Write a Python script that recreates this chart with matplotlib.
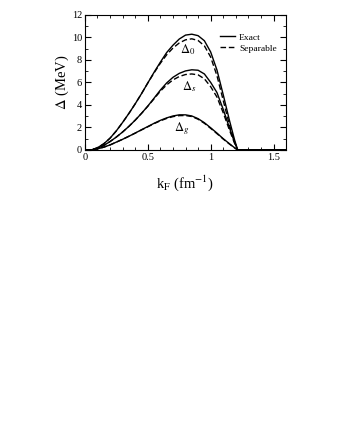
import numpy as np
import matplotlib
matplotlib.use("Agg")
import matplotlib.pyplot as plt
from matplotlib.ticker import MultipleLocator

plt.rcParams['font.family'] = ['Liberation Serif', 'DejaVu Serif']
plt.rcParams['mathtext.fontset'] = 'stix'

# k_F grid (fm^-1)
kF = [0.0, 0.05, 0.10, 0.15, 0.20, 0.25, 0.30, 0.35, 0.40, 0.45, 0.50, 0.55,
      0.60, 0.65, 0.70, 0.75, 0.80, 0.85, 0.90, 0.95, 1.00, 1.05, 1.10, 1.15,
      1.19, 1.215, 1.30, 1.40, 1.50, 1.60]

# gaps (MeV)
d0_exact = [0, 0.0, 0.20, 0.55, 1.05, 1.70, 2.45, 3.25, 4.10, 5.00, 5.95, 6.90,
            7.80, 8.65, 9.30, 9.85, 10.20, 10.28, 10.15, 9.70, 8.70, 7.10, 4.90, 2.60,
            0.90, 0, 0, 0, 0, 0]
d0_sep = [0, 0.0, 0.20, 0.55, 1.05, 1.70, 2.45, 3.25, 4.10, 5.00, 5.95, 6.85,
          7.70, 8.45, 9.05, 9.50, 9.78, 9.87, 9.72, 9.25, 8.25, 6.60, 4.40, 2.20,
          0.70, 0, 0, 0, 0, 0]
ds_exact = [0, 0.0, 0.15, 0.40, 0.75, 1.15, 1.60, 2.10, 2.65, 3.25, 3.90, 4.60,
            5.32, 5.95, 6.45, 6.80, 7.02, 7.12, 7.08, 6.75, 6.00, 5.10, 3.60, 1.95,
            0.70, 0, 0, 0, 0, 0]
ds_sep = [0, 0.0, 0.15, 0.40, 0.75, 1.15, 1.60, 2.10, 2.65, 3.25, 3.88, 4.55,
          5.22, 5.78, 6.22, 6.52, 6.70, 6.75, 6.67, 6.32, 5.62, 4.70, 3.30, 1.75,
          0.60, 0, 0, 0, 0, 0]
dg_exact = [0, 0.0, 0.10, 0.25, 0.45, 0.70, 0.95, 1.22, 1.50, 1.80, 2.08, 2.37,
            2.63, 2.85, 3.02, 3.12, 3.12, 3.02, 2.78, 2.42, 1.97, 1.50, 1.00, 0.55,
            0.20, 0, 0, 0, 0, 0]
dg_sep = [0, 0.0, 0.10, 0.25, 0.45, 0.70, 0.95, 1.22, 1.50, 1.78, 2.06, 2.34,
          2.59, 2.80, 2.96, 3.05, 3.06, 2.97, 2.73, 2.37, 1.92, 1.45, 0.97, 0.52,
          0.19, 0, 0, 0, 0, 0]

fig = plt.figure(figsize=(3.37, 4.36), dpi=100)
ax = fig.add_axes([0.252, 0.656, 0.597, 0.31])

lw = 1.0
ax.plot(kF, d0_exact, 'k-', lw=lw, label='Exact')
ax.plot(kF, d0_sep, 'k--', lw=lw, dashes=(4, 2), label='Separable')
ax.plot(kF, ds_exact, 'k-', lw=lw)
ax.plot(kF, ds_sep, 'k--', lw=lw, dashes=(4, 2))
ax.plot(kF, dg_exact, 'k-', lw=lw)
ax.plot(kF, dg_sep, 'k--', lw=lw, dashes=(4, 2))

ax.text(0.815, 8.9, r'$\Delta_0$', fontsize=9, ha='center', va='center')
ax.text(0.83, 5.6, r'$\Delta_s$', fontsize=9, ha='center', va='center')
ax.text(0.77, 1.9, r'$\Delta_g$', fontsize=9, ha='center', va='center')

ax.set_xlim(0, 1.6)
ax.set_ylim(0, 12)
ax.xaxis.set_major_locator(MultipleLocator(0.5))
ax.xaxis.set_minor_locator(MultipleLocator(0.1))
ax.yaxis.set_major_locator(MultipleLocator(2))
ax.yaxis.set_minor_locator(MultipleLocator(1))
ax.set_xticks([0, 0.5, 1, 1.5], ['0', '0.5', '1', '1.5'])
ax.tick_params(which='both', direction='in', top=True, right=True, labelsize=7.5, pad=2)
ax.tick_params(which='major', length=4, width=0.8)
ax.tick_params(which='minor', length=2, width=0.6)
for s in ax.spines.values():
    s.set_linewidth(0.8)

ax.set_xlabel(r'k$_\mathrm{F}$ (fm$^{-1}$)', fontsize=10.5, labelpad=8)
ax.set_ylabel(r'$\Delta$ (MeV)', fontsize=10.5, labelpad=1)

ax.legend(loc='upper left', bbox_to_anchor=(0.672, 0.865), frameon=False, fontsize=6.8,
          handlelength=1.6, handletextpad=0.4, labelspacing=0.25,
          borderpad=0, borderaxespad=0)

fig.savefig('out.png', dpi=100)
